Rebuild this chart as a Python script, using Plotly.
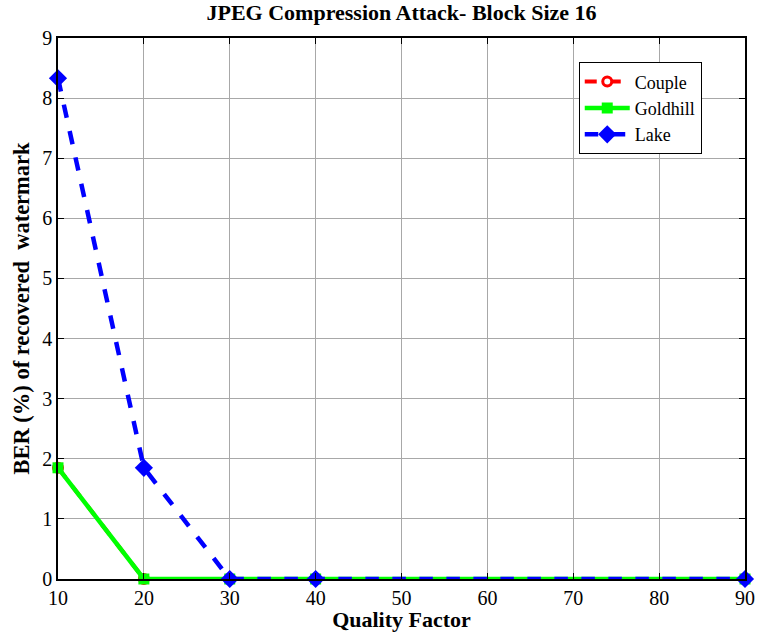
import plotly.graph_objects as go

quality = [10, 20, 30, 40, 90]
couple = [1.85, 0, 0, 0, 0]
goldhill = [1.85, 0, 0, 0, 0]
lake = [8.33, 1.85, 0, 0, 0]

fig = go.Figure()
fig.add_trace(go.Scatter(x=quality, y=couple, name="Couple", mode="lines+markers",
                         line=dict(color="red", width=4, dash="dash"),
                         marker=dict(symbol="circle", size=9, color="white",
                                     line=dict(color="red", width=3)), cliponaxis=False))
fig.add_trace(go.Scatter(x=quality, y=goldhill, name="Goldhill", mode="lines+markers",
                         line=dict(color="#00ff00", width=4.5),
                         marker=dict(symbol="square", size=11, color="#00ff00"), cliponaxis=False))
fig.add_trace(go.Scatter(x=quality, y=lake, name="Lake", mode="lines+markers",
                         line=dict(color="blue", width=4.5, dash="dash"),
                         marker=dict(symbol="diamond", size=14, color="blue"), cliponaxis=False))

font = "Liberation Serif, Times New Roman, serif"
fig.update_layout(
    width=757, height=632,
    margin=dict(l=58, r=12, t=38, b=53, autoexpand=False),
    paper_bgcolor="white", plot_bgcolor="white",
    font=dict(family=font, size=20, color="black"),
    title=dict(text="<b>JPEG Compression Attack- Block Size 16</b>", xref="paper", x=0.5,
               xanchor="center", yref="container", y=0.992, yanchor="top", font=dict(size=22)),
    xaxis=dict(range=[10, 90], tickvals=[10, 20, 30, 40, 50, 60, 70, 80, 90],
               showgrid=True, gridcolor="#a8a8a8", gridwidth=1, automargin=False,
               showline=True, linecolor="black", linewidth=1.5, mirror="ticks",
               ticks="inside", ticklen=6, tickcolor="black", zeroline=False,
               title=dict(text="<b>Quality Factor</b>", standoff=0, font=dict(size=22))),
    yaxis=dict(range=[0, 9], tickvals=list(range(10)),
               showgrid=True, gridcolor="#a8a8a8", gridwidth=1, automargin=False,
               showline=True, linecolor="black", linewidth=1.5, mirror="ticks",
               ticks="inside", ticklen=6, tickcolor="black", zeroline=False,
               title=dict(text="<b>BER (%) of recovered  watermark</b>", standoff=6, font=dict(size=22.5))),
    legend=dict(x=0.758, y=0.955, xanchor="left", yanchor="top",
                bgcolor="white", bordercolor="black", borderwidth=1,
                font=dict(size=18), tracegroupgap=0, itemwidth=45),
    showlegend=True,
)
fig.write_html("out.html")
